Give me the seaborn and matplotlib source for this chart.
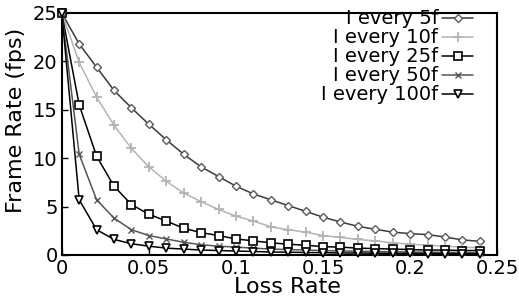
import numpy as np
import pandas as pd
import matplotlib
matplotlib.use("Agg")
import matplotlib.pyplot as plt
import seaborn as sns

# loss rates sampled every 0.01
loss = [round(0.01 * i, 2) for i in range(25)]

every5 = [25, 21.8, 19.4, 17.0, 15.2, 13.5, 11.9, 10.4, 9.1, 8.1, 7.1, 6.3, 5.7,
          5.1, 4.5, 3.9, 3.4, 2.95, 2.65, 2.35, 2.2, 2.1, 1.85, 1.55, 1.4]
every10 = [25, 19.9, 16.3, 13.4, 11.0, 9.1, 7.6, 6.4, 5.5, 4.7, 4.0, 3.5, 2.9,
           2.6, 2.35, 2.0, 1.8, 1.6, 1.45, 1.25, 1.1, 1.0, 0.9, 0.8, 0.75]
every25 = [25, 15.5, 10.2, 7.1, 5.2, 4.2, 3.5, 2.75, 2.3, 2.0, 1.65, 1.45, 1.25,
           1.1, 1.0, 0.85, 0.8, 0.7, 0.65, 0.6, 0.55, 0.5, 0.5, 0.45, 0.45]
every50 = [25, 10.4, 5.7, 3.8, 2.6, 2.0, 1.65, 1.3, 1.05, 0.9, 0.8, 0.7, 0.6,
           0.55, 0.5, 0.45, 0.4, 0.38, 0.35, 0.32, 0.3, 0.28, 0.26, 0.25, 0.23]
every100 = [25, 5.7, 2.6, 1.6, 1.15, 0.9, 0.7, 0.6, 0.5, 0.45, 0.4, 0.35, 0.3,
            0.28, 0.25, 0.23, 0.2, 0.19, 0.18, 0.16, 0.15, 0.14, 0.13, 0.12, 0.12]

labels = ["I every 5f", "I every 10f", "I every 25f", "I every 50f", "I every 100f"]
series = [every5, every10, every25, every50, every100]

xticks = [0, 0.05, 0.1, 0.15, 0.2, 0.25]
xticklabels = ["0", "0.05", "0.1", "0.15", "0.2", "0.25"]
yticks = [0, 5, 10, 15, 20, 25]

rows = []
for lab, vals in zip(labels, series):
    for x, y in zip(loss, vals):
        rows.append({"loss": x, "fps": y, "policy": lab})
df = pd.DataFrame(rows)

sns.set_style("ticks")
plt.rcParams["font.family"] = ["DejaVu Sans"]
plt.rcParams["text.color"] = "black"
plt.rcParams["axes.labelcolor"] = "black"

fig = plt.figure(figsize=(5.19, 3.02), dpi=100)
ax = fig.add_axes([0.119, 0.156, 0.839, 0.801])

styles = {
    "I every 5f": dict(color="#3a3a3a", marker="D", ms=3.8, mfc="white", mec="#5a5a5a", mew=1.0),
    "I every 10f": dict(color="#b4b4b4", marker="+", ms=6.5, mew=1.3),
    "I every 25f": dict(color="black", marker="s", ms=5.2, mfc="white", mec="black", mew=1.2),
    "I every 50f": dict(color="#555555", marker="x", ms=5, mew=1.0),
    "I every 100f": dict(color="black", marker="v", ms=5.8, mfc="white", mec="black", mew=1.2),
}

for lab in labels:
    st = styles[lab]
    sns.lineplot(data=df[df["policy"] == lab], x="loss", y="fps", ax=ax,
                 color=st["color"], marker=st["marker"], markersize=st["ms"],
                 markerfacecolor=st.get("mfc", st["color"]),
                 markeredgecolor=st.get("mec", st["color"]),
                 markeredgewidth=st["mew"], linewidth=1.1, label=lab,
                 clip_on=False, zorder=3)

ax.set_xlim(0, 0.25)
ax.set_ylim(0, 25)
ax.set_xticks(xticks)
ax.set_xticklabels(xticklabels)
ax.set_yticks(yticks)
ax.tick_params(direction="in", length=4, width=1, pad=3, labelsize=14, colors="black")
for sp in ax.spines.values():
    sp.set_linewidth(1.5)
    sp.set_color("black")

ax.set_xlabel("Loss Rate", fontsize=16)
ax.set_ylabel("Frame Rate (fps)", fontsize=16)
ax.xaxis.set_label_coords(0.518, -0.09)
ax.yaxis.set_label_coords(-0.082, 0.554)

ax.legend(loc="upper right", bbox_to_anchor=(0.945, 1.015), markerfirst=False,
          frameon=False, fontsize=14, labelspacing=0.0, handlelength=1.6,
          handletextpad=0.2, borderaxespad=0.0, borderpad=0.0)

fig.savefig("out.png", dpi=100)
